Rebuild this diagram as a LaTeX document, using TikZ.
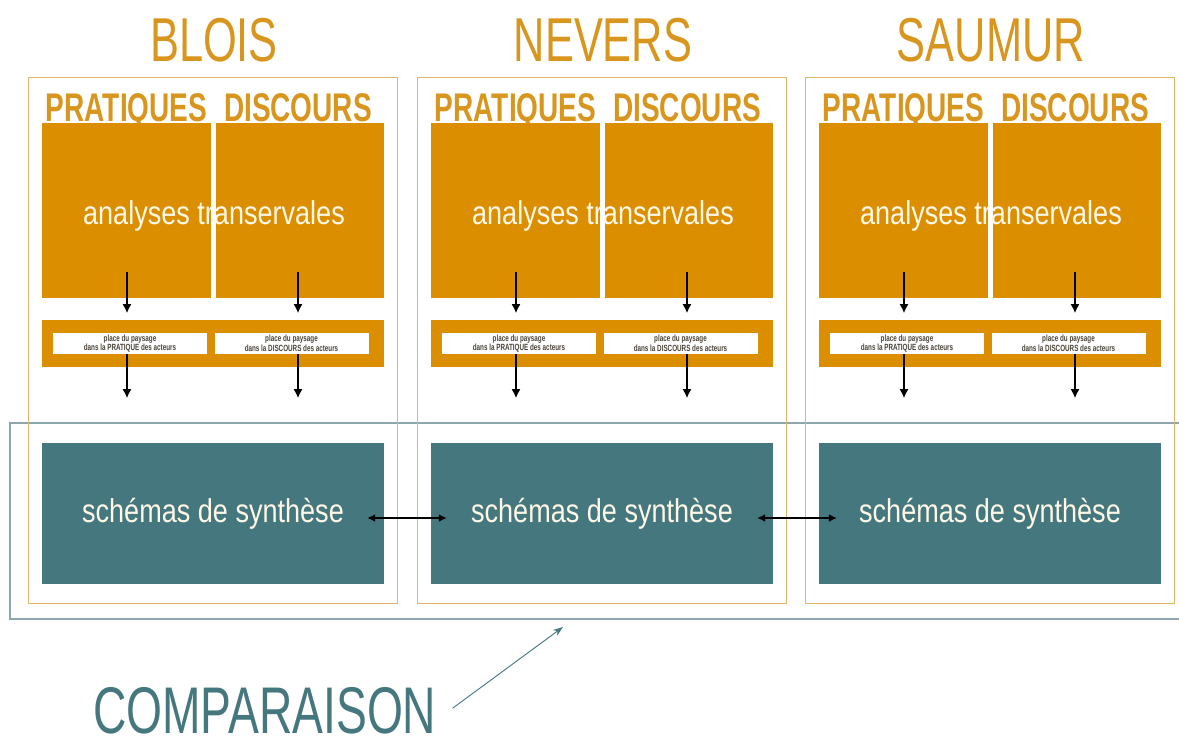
\documentclass[tikz,border=0pt]{standalone}
\usepackage{fontspec}
\setmainfont{Liberation Sans}
\newfontfamily\cnd[FakeStretch=0.7]{Liberation Sans}
\newfontfamily\cndb[FakeStretch=0.7]{Liberation Sans Bold}
\newfontfamily\cndm[FakeStretch=0.82]{Liberation Sans}
\usetikzlibrary{arrows.meta,calc}
\definecolor{ocre}{HTML}{DB8E00}
\definecolor{ocretxt}{HTML}{D8961E}
\definecolor{tanline}{HTML}{E3B76A}
\definecolor{petrol}{HTML}{44777E}
\definecolor{cmpline}{HTML}{8EA7AB}
\definecolor{cream}{HTML}{FFF8E6}
\definecolor{smalltxt}{HTML}{4A4338}
\begin{document}
\begin{tikzpicture}[x=1pt,y=-1pt,
  frame/.style={draw=tanline, line width=0.9pt, minimum width=369pt, minimum height=526pt, inner sep=0pt},
  obox/.style={fill=ocre, minimum width=168.5pt, minimum height=175pt, inner sep=0pt},
  band/.style={fill=ocre, minimum width=342pt, minimum height=47pt, inner sep=0pt},
  wbox/.style={fill=white, minimum width=154pt, minimum height=21pt, inner sep=0pt, align=center,
    text=smalltxt, font=\cndb\fontsize{9}{9.5}\selectfont},
  tbox/.style={fill=petrol, minimum width=342pt, minimum height=141pt, inner sep=0pt,
    text=cream, font=\cndm\fontsize{33}{33}\selectfont},
  ttl/.style={anchor=base, inner sep=0pt, text=ocretxt, font=\cnd\fontsize{62}{62}\selectfont},
  sub/.style={anchor=base, inner sep=0pt, text=ocretxt, font=\cndb\fontsize{40}{40}\selectfont},
  ana/.style={anchor=base, inner sep=0pt, text=cream, font=\cndm\fontsize{33}{33}\selectfont},
  arr/.style={-{Latex[length=9pt,width=9pt]}, line width=1.6pt, black},
  darr/.style={{Latex[length=8pt,width=8pt]}-{Latex[length=8pt,width=8pt]}, line width=1.5pt, black},
  carr/.style={-{Stealth[length=10pt,width=7pt]}, line width=0.9pt, petrol},
  cmpbox/.style={draw=cmpline, line width=1.2pt, minimum width=1180pt, minimum height=196pt, inner sep=0pt}
]
\useasboundingbox[fill=white] (0,0) rectangle (1179,740);

\node[cmpbox] (cmp) at (600,521) {};

\foreach \n/\dx/\t in {b/0/BLOIS, n/389/NEVERS, s/777/SAUMUR}{
  \node[frame] (fr\n) at ({\dx+212.5},340) {};
  \node[ttl] (ti\n) at ({\dx+214},61) {\t};
  \node[sub] (pr\n) at ({\dx+126.5},121) {PRATIQUES};
  \node[sub] (di\n) at ({\dx+298},121) {DISCOURS};
  \node[obox] (ol\n) at ({\dx+126.5},210.5) {};
  \node[obox] (or\n) at ({\dx+300},210.5) {};
  \node[ana] (an\n) at ({\dx+214},224) {analyses transervales};
  \node[band] (ba\n) at ({\dx+213},343.5) {};
  \node[wbox] (wl\n) at ({\dx+130},343.5) {place du paysage\\dans la PRATIQUE des acteurs};
  \node[wbox] (wr\n) at ({\dx+291.5},343.5) {place du paysage\\dans la DISCOURS des acteurs};
  \node[tbox] (t\n) at ({\dx+213},513.5) {schémas de synthèse};
  \draw[arr] ($(ol\n.south)+(0.5,-26)$) -- ($(ol\n.south)+(0.5,15)$);
  \draw[arr] ($(or\n.south)+(-2,-26)$) -- ($(or\n.south)+(-2,15)$);
  \coordinate (el\n) at ($(ol\n.south)+(0.5,100)$);
  \coordinate (er\n) at ($(or\n.south)+(-2,100)$);
  \draw[arr] (wl\n.south -| el\n) -- (el\n);
  \draw[arr] (wr\n.south -| er\n) -- (er\n);
}

\draw[darr] ($(tb.east)+(-17,4.5)$) -- ($(tn.west)+(16,4.5)$);
\draw[darr] ($(tn.east)+(-16,4.5)$) -- ($(ts.west)+(18,4.5)$);

\node[anchor=base west, inner sep=0pt, text=petrol, font=\cnd\fontsize{66}{66}\selectfont] (ctx) at (93,733) {COMPARAISON};
\coordinate (ctip) at (563,627);
\draw[carr] ($(ctx.east)+(16,-2)$) -- (ctip);
\end{tikzpicture}
\end{document}
